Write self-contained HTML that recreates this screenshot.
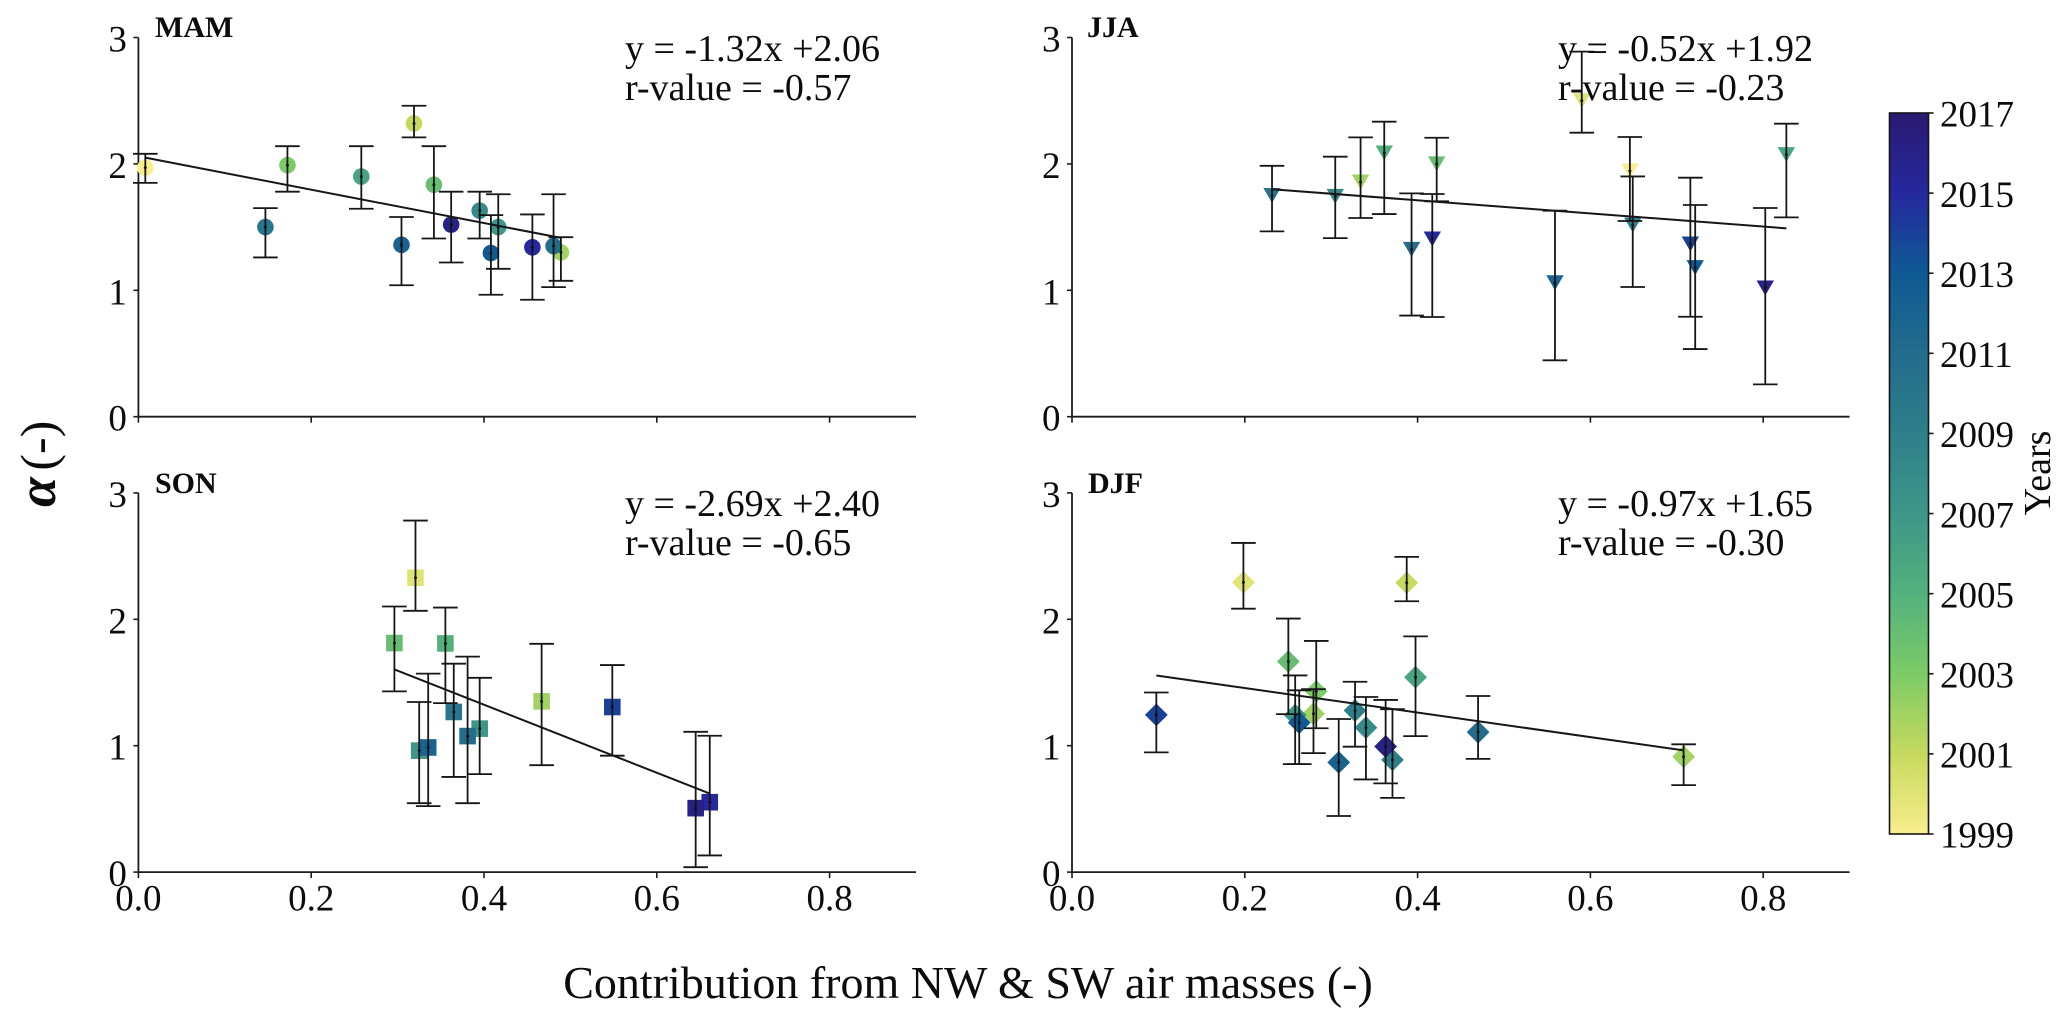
<!DOCTYPE html>
<html lang="en">
<head>
<meta charset="utf-8">
<title>Alpha versus air mass contribution by season</title>
<style>
html,body{margin:0;padding:0;background:#fff;width:2067px;height:1027px;overflow:hidden}
svg{display:block}
text{font-family:"Liberation Serif","Times New Roman",serif;fill:#0c0c0c}
.tick{font-size:37px}
.ann{font-size:38px}
.season{font-size:30px;font-weight:bold}
</style>
</head>
<body>
<svg id="chart" xmlns="http://www.w3.org/2000/svg" width="2067" height="1027" viewBox="0 0 2067 1027">
  <defs>
    <linearGradient id="cbarGrad" x1="0" y1="1" x2="0" y2="0"></linearGradient>
  </defs>
  <g id="panels"></g>
  <g id="colorbar"></g>
  <text x="968" y="998" text-anchor="middle" style="font-size:46px">Contribution from NW &amp; SW air masses (-)</text>
  <text transform="translate(55,507) rotate(-90)" style="font-size:50px"><tspan style="font-style:italic;font-weight:bold;font-size:54px">α</tspan><tspan dx="-6"> (-)</tspan></text>
  <text transform="translate(2050,473) rotate(-90)" text-anchor="middle" style="font-size:38px">Years</text>
  <text class="season" x="155" y="37">MAM</text>
  <text class="season" x="1087" y="37">JJA</text>
  <text class="season" x="155" y="493">SON</text>
  <text class="season" x="1088" y="493">DJF</text>
  <text class="ann" x="625" y="61">y = -1.32x +2.06</text>
  <text class="ann" x="625" y="100">r-value = -0.57</text>
  <text class="ann" x="1558" y="61">y = -0.52x +1.92</text>
  <text class="ann" x="1558" y="100">r-value = -0.23</text>
  <text class="ann" x="625" y="516">y = -2.69x +2.40</text>
  <text class="ann" x="625" y="555">r-value = -0.65</text>
  <text class="ann" x="1558" y="516">y = -0.97x +1.65</text>
  <text class="ann" x="1558" y="555">r-value = -0.30</text>
</svg>
<script>
// ---- chart data ----
const contribTicks = [0.0, 0.2, 0.4, 0.6, 0.8];
const alphaTicks = [0, 1, 2, 3];
const yearTicks = [1999, 2001, 2003, 2005, 2007, 2009, 2011, 2013, 2015, 2017];

const mamContrib = [0.008, 0.147, 0.1725, 0.258, 0.319, 0.3045, 0.342, 0.362, 0.395, 0.4165, 0.408, 0.456, 0.4805, 0.489];
const mamAlpha = [1.97, 1.50, 1.99, 1.90, 2.32, 1.36, 1.835, 1.52, 1.63, 1.50, 1.295, 1.34, 1.35, 1.30];
const mamUpper = [2.08, 1.65, 2.14, 2.14, 2.46, 1.58, 2.14, 1.78, 1.78, 1.76, 1.595, 1.60, 1.76, 1.42];
const mamLower = [1.85, 1.26, 1.78, 1.645, 2.21, 1.04, 1.41, 1.22, 1.41, 1.17, 0.965, 0.925, 1.025, 1.075];
const mamYears = [1999, 2010, 2003, 2006, 2001, 2012, 2004, 2016, 2008, 2007, 2013, 2015, 2011, 2002];
const mamSlope = -1.32;
const mamIntercept = 2.06;

const jjaContrib = [0.2315, 0.3047, 0.334, 0.3614, 0.393, 0.417, 0.4221, 0.559, 0.590, 0.6457, 0.649, 0.7157, 0.7213, 0.8024, 0.8268];
const jjaAlpha = [1.75, 1.743, 1.857, 2.086, 1.324, 1.406, 2.0, 1.06, 2.50, 1.944, 1.516, 1.366, 1.179, 1.018, 2.073];
const jjaUpper = [1.985, 2.057, 2.21, 2.334, 1.767, 1.762, 2.207, 1.63, 2.888, 2.213, 1.901, 1.891, 1.675, 1.651, 2.318];
const jjaLower = [1.466, 1.413, 1.572, 1.603, 0.80, 0.789, 1.704, 0.446, 2.247, 1.548, 1.026, 0.791, 0.535, 0.256, 1.577];
const jjaYears = [2010, 2008, 2002, 2005, 2011, 2015, 2004, 2012, 2000, 1999, 2009, 2014, 2013, 2016, 2006];
const jjaSlope = -0.52;
const jjaIntercept = 1.92;

const sonContrib = [0.2963, 0.3207, 0.3553, 0.325, 0.3354, 0.365, 0.381, 0.395, 0.4667, 0.5485, 0.645, 0.6613];
const sonAlpha = [1.812, 2.329, 1.809, 0.961, 0.986, 1.267, 1.076, 1.135, 1.351, 1.306, 0.506, 0.553];
const sonUpper = [2.101, 2.781, 2.093, 1.346, 1.57, 1.649, 1.705, 1.537, 1.806, 1.638, 1.11, 1.079];
const sonLower = [1.43, 2.067, 1.337, 0.545, 0.522, 0.753, 0.545, 0.775, 0.846, 0.921, 0.039, 0.132];
const sonYears = [2004, 2000, 2005, 2007, 2012, 2010, 2011, 2007, 2002, 2014, 2016, 2015];
const sonSlope = -2.69;
const sonIntercept = 2.40;

const djfContrib = [0.0976, 0.1984, 0.2504, 0.2583, 0.263, 0.2795, 0.2827, 0.3087, 0.3276, 0.3402, 0.363, 0.3709, 0.3874, 0.3976, 0.47, 0.7079];
const djfAlpha = [1.244, 2.292, 1.666, 1.242, 1.183, 1.253, 1.43, 0.868, 1.278, 1.143, 0.994, 0.888, 2.289, 1.542, 1.107, 0.913];
const djfUpper = [1.421, 2.604, 2.006, 1.556, 1.438, 1.447, 1.829, 1.211, 1.506, 1.385, 1.362, 1.289, 2.494, 1.865, 1.393, 1.011];
const djfLower = [0.947, 2.084, 1.25, 0.854, 0.854, 0.941, 1.138, 0.444, 0.992, 0.733, 0.702, 0.587, 2.143, 1.076, 0.896, 0.688];
const djfYears = [2014, 2000, 2004, 2007, 2013, 2002, 2003, 2012, 2009, 2008, 2016, 2009, 2001, 2006, 2011, 2002];
const djfSlope = -0.97;
const djfIntercept = 1.65;

// colour map sampled from the colour bar, bottom to top
const colormapYears = [1999, 2001, 2003, 2005, 2007, 2009, 2011, 2013, 2015, 2017];
const colormapColors = ['#f9ee8c', '#c6d95e', '#7ccb66', '#52b17e', '#3d9688', '#2d7f8a', '#226c8c', '#0e5a94', '#25289e', '#2b1a72'];

// ---- rendering ----
const NS = 'http://www.w3.org/2000/svg';
const AX_XSCALE = 864, AX_YSCALE = 126.4, AX_XMAX = 0.9;

function mk(parent, tag, attrs) {
  const el = document.createElementNS(NS, tag);
  for (const k in attrs) el.setAttribute(k, attrs[k]);
  parent.appendChild(el);
  return el;
}
function hexToRgb(h) {
  return [parseInt(h.slice(1, 3), 16), parseInt(h.slice(3, 5), 16), parseInt(h.slice(5, 7), 16)];
}
function yearColor(y) {
  const last = colormapYears.length - 1;
  if (y <= colormapYears[0]) return colormapColors[0];
  if (y >= colormapYears[last]) return colormapColors[last];
  let i = 0;
  while (colormapYears[i + 1] < y) i++;
  const t = (y - colormapYears[i]) / (colormapYears[i + 1] - colormapYears[i]);
  const a = hexToRgb(colormapColors[i]), b = hexToRgb(colormapColors[i + 1]);
  return 'rgb(' + a.map((v, n) => Math.round(v + (b[n] - v) * t)).join(',') + ')';
}
function drawMarker(g, shape, cx, cy, color) {
  if (shape === 'circle') {
    return mk(g, 'circle', { cx: cx, cy: cy, r: 8.3, fill: color });
  }
  if (shape === 'square') {
    return mk(g, 'rect', { x: cx - 8.3, y: cy - 8.3, width: 16.6, height: 16.6, fill: color });
  }
  if (shape === 'diamond') {
    return mk(g, 'polygon', { points: [cx, cy - 11.4, cx + 11.4, cy, cx, cy + 11.4, cx - 11.4, cy].join(','), fill: color });
  }
  return mk(g, 'polygon', { points: [cx - 8.7, cy - 7.5, cx + 8.7, cy - 7.5, cx, cy + 7.5].join(','), fill: color });
}

const panels = [
  { key: 'mam', shape: 'circle', x0: 138.4, y0: 416.7, showX: false, xs: mamContrib, ys: mamAlpha, hi: mamUpper, lo: mamLower, yrs: mamYears, m: mamSlope, b: mamIntercept },
  { key: 'jja', shape: 'triangle', x0: 1072, y0: 416.7, showX: false, xs: jjaContrib, ys: jjaAlpha, hi: jjaUpper, lo: jjaLower, yrs: jjaYears, m: jjaSlope, b: jjaIntercept },
  { key: 'son', shape: 'square', x0: 138.4, y0: 872.1, showX: true, xs: sonContrib, ys: sonAlpha, hi: sonUpper, lo: sonLower, yrs: sonYears, m: sonSlope, b: sonIntercept },
  { key: 'djf', shape: 'diamond', x0: 1072, y0: 872.1, showX: true, xs: djfContrib, ys: djfAlpha, hi: djfUpper, lo: djfLower, yrs: djfYears, m: djfSlope, b: djfIntercept }
];

const root = document.getElementById('panels');
panels.forEach(function (p) {
  const sx = function (v) { return p.x0 + v * AX_XSCALE; };
  const sy = function (v) { return p.y0 - v * AX_YSCALE; };
  const g = mk(root, 'g', {});
  
  

  // spines
  const left = mk(g, 'line', { x1: sx(0), x2: sx(0), y1: sy(3), y2: sy(0) + 1, stroke: '#1c1c1c', 'stroke-width': 1.8 });
  
  
  const bottom = mk(g, 'line', { x1: sx(0) - 1, x2: sx(AX_XMAX), y1: sy(0), y2: sy(0), stroke: '#1c1c1c', 'stroke-width': 1.8 });
  
  

  // ticks
  alphaTicks.forEach(function (t) {
    const tk = mk(g, 'line', { x1: sx(0) - 5, x2: sx(0), y1: sy(t), y2: sy(t), stroke: '#1c1c1c', 'stroke-width': 1.6 });
    
    
    const lb = mk(g, 'text', { x: sx(0) - 11.5, y: sy(t) + 14, 'text-anchor': 'end', class: 'tick' });
    lb.textContent = String(t);
    
    
  });
  contribTicks.forEach(function (t) {
    const tk = mk(g, 'line', { x1: sx(t), x2: sx(t), y1: sy(0), y2: sy(0) + 6, stroke: '#1c1c1c', 'stroke-width': 1.6 });
    
    
    if (p.showX) {
      const lb = mk(g, 'text', { x: sx(t), y: sy(0) + 38.5, 'text-anchor': 'middle', class: 'tick' });
      lb.textContent = t.toFixed(1);
      
      
    }
  });

  // markers, drawn in time order so later years sit on top
  const order = p.xs.map(function (_, i) { return i; }).sort(function (a, b) { return p.yrs[a] - p.yrs[b]; });
  order.forEach(function (i) {
    const mkEl = drawMarker(g, p.shape, sx(p.xs[i]), sy(p.ys[i]), yearColor(p.yrs[i]));
    
    
  });

  // error bars
  p.xs.forEach(function (x, i) {
    const eb = mk(g, 'g', { stroke: '#161616', 'stroke-width': 1.8, fill: 'none' });
    
    
    const cx = sx(x);
    mk(eb, 'line', { x1: cx, x2: cx, y1: sy(p.hi[i]), y2: sy(p.lo[i]) });
    mk(eb, 'line', { x1: cx - 12.3, x2: cx + 12.3, y1: sy(p.hi[i]), y2: sy(p.hi[i]) });
    mk(eb, 'line', { x1: cx - 12.3, x2: cx + 12.3, y1: sy(p.lo[i]), y2: sy(p.lo[i]) });
    const dot = mk(eb, 'circle', { cx: cx, cy: sy(p.ys[i]), r: 1.5, fill: '#111', stroke: 'none' });
    
    
  });

  // regression line across the data range
  const xMin = Math.min.apply(null, p.xs), xMax = Math.max.apply(null, p.xs);
  const fit = mk(g, 'line', { x1: sx(xMin), y1: sy(p.m * xMin + p.b), x2: sx(xMax), y2: sy(p.m * xMax + p.b), stroke: '#161616', 'stroke-width': 2 });
  
  
});

// colour bar
const CB_LEFT = 1889.5, CB_RIGHT = 1928.5, CB_TOP = 113, CB_BOTTOM = 834;
const cbY = function (yr) {
  return CB_BOTTOM - (yr - yearTicks[0]) / (yearTicks[yearTicks.length - 1] - yearTicks[0]) * (CB_BOTTOM - CB_TOP);
};
const grad = document.getElementById('cbarGrad');
colormapYears.forEach(function (yr, i) {
  mk(grad, 'stop', { offset: (yr - colormapYears[0]) / (colormapYears[colormapYears.length - 1] - colormapYears[0]), 'stop-color': colormapColors[i] });
});
const cb = document.getElementById('colorbar');
const cbRect = mk(cb, 'rect', { x: CB_LEFT, y: CB_TOP, width: CB_RIGHT - CB_LEFT, height: CB_BOTTOM - CB_TOP, fill: 'url(#cbarGrad)', stroke: '#161616', 'stroke-width': 1.6 });


yearTicks.forEach(function (yr) {
  const tk = mk(cb, 'line', { x1: CB_RIGHT, x2: CB_RIGHT + 5, y1: cbY(yr), y2: cbY(yr), stroke: '#1c1c1c', 'stroke-width': 1.6 });
  
  
  const lb = mk(cb, 'text', { x: 1940, y: cbY(yr) + 13.7, class: 'tick' });
  lb.textContent = String(yr);
  
  
});
</script>
</body>
</html>
